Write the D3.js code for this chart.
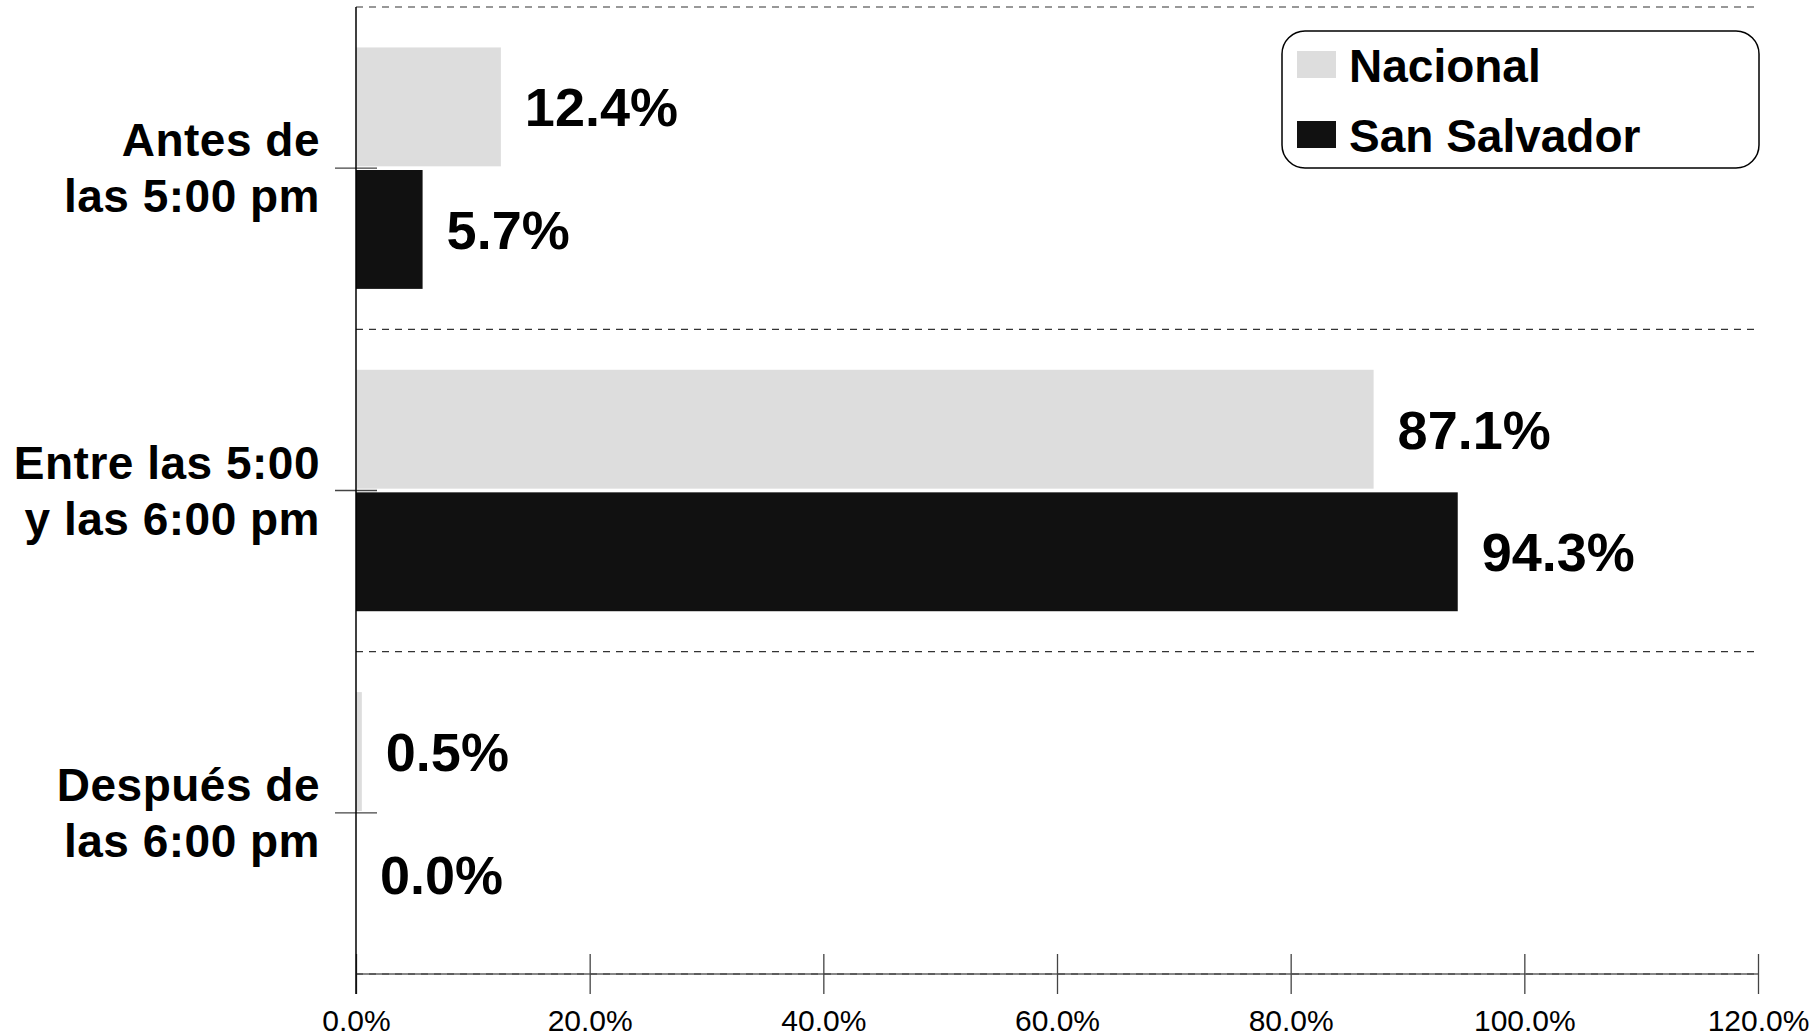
<!DOCTYPE html>
<html>
<head>
<meta charset="utf-8">
<script src="https://cdn.jsdelivr.net/npm/d3@7"></script>
<style>
    body { margin: 0; background: #fff; }
    svg { display: block; font-family: "Liberation Sans", Arial, sans-serif; }
</style>
</head>
<body>
<div class="chart"></div>
<script>
// Data.
const categories = [
    ['Antes de', 'las 5:00 pm'],
    ['Entre las 5:00', 'y las 6:00 pm'],
    ['Después de', 'las 6:00 pm']
];
const seriesNames = ['Nacional', 'San Salvador'];
const seriesColors = ['#dddddd', '#111111'];
const nacional = [0.124, 0.871, 0.005];
const sanSalvador = [0.057, 0.943, 0.0];
const xTicks = [0, 0.2, 0.4, 0.6, 0.8, 1.0, 1.2];

const W = 1812;
const H = 1036;
const margin = {top: 7, right: 54, bottom: 62, left: 356};
const width = W - margin.left - margin.right;
const height = H - margin.top - margin.bottom;

const svg = d3.select('.chart')
    .append('svg')
    .attr('width', W)
    .attr('height', H);

const g = svg.append('g')
    .attr('transform', `translate(${margin.left}, ${margin.top})`);

const catKeys = categories.map((d, i) => i);

//Scales
const x = d3.scaleLinear()
    .domain([0, 1.2])
    .range([0, width]);

const y = d3.scaleBand()
    .domain(catKeys)
    .range([0, height])
    .padding(0);

const ySeries = d3.scaleBand()
    .domain(seriesNames)
    .range([0, y.bandwidth()])
    .paddingInner(0.03)
    .paddingOuter(0.33);

// gridlines on the category boundaries
const boundaries = catKeys.map(k => y(k)).concat([height]);
g.append('g')
    .selectAll('line')
    .data(boundaries)
    .enter()
    .append('line')
    .attr('x1', 0)
    .attr('x2', width)
    .attr('y1', d => d)
    .attr('y2', d => d)
    .attr('stroke', '#888')
    .attr('stroke-width', d => d === height ? 2 : 0)
    .clone()
    .attr('stroke', '#333')
    .attr('stroke-width', 1.2)
    .attr('stroke-dasharray', '7,6');

// x axis
const axisX = d3.axisBottom(x)
    .tickValues(xTicks)
    .tickFormat(d3.format('.1%'))
    .tickSizeOuter(0);

const gx = g.append('g')
    .attr('transform', `translate(0, ${height})`)
    .call(axisX);
gx.select('.domain').remove();
gx.selectAll('.tick line')
    .attr('y1', -20)
    .attr('y2', 20)
    .attr('stroke', '#444')
    .attr('stroke-width', 1.3);
gx.selectAll('.tick text')
    .attr('y', 57)
    .attr('dy', 0)
    .attr('fill', '#000')
    .style('font-size', '30px');

// bars
const rows = catKeys.map(k => ({key: k, values: [nacional[k], sanSalvador[k]]}));

const groups = g.append('g')
    .selectAll('.cat')
    .data(rows)
    .enter()
    .append('g')
    .attr('class', 'cat')
    .attr('transform', d => `translate(0, ${y(d.key)})`);

groups.selectAll('rect')
    .data(d => d.values.map((v, i) => ({name: seriesNames[i], v: v, i: i})))
    .enter()
    .append('rect')
    .attr('x', 0)
    .attr('y', d => ySeries(d.name))
    .attr('width', d => x(d.v))
    .attr('height', ySeries.bandwidth())
    .attr('fill', d => seriesColors[d.i]);

groups.selectAll('.val')
    .data(d => d.values.map((v, i) => ({name: seriesNames[i], v: v, i: i})))
    .enter()
    .append('text')
    .attr('class', 'val')
    .attr('x', d => x(d.v) + 24)
    .attr('y', d => ySeries(d.name) + ySeries.bandwidth() / 2)
    .attr('dy', '0.36em')
    .style('font-size', '54px')
    .style('font-weight', 'bold')
    .text(d => d3.format('.1%')(d.v));

// y axis
const axisY = d3.axisLeft(y)
    .tickSize(21)
    .tickSizeOuter(0)
    .tickFormat('');

const gy = g.append('g').call(axisY);
gy.select('.domain').remove();
gy.selectAll('.tick line')
    .attr('x2', 21)
    .attr('x1', -21)
    .attr('stroke', '#444')
    .attr('stroke-width', 1.3);

gy.selectAll('.tick text').remove();
gy.selectAll('.tick')
    .append('text')
    .attr('text-anchor', 'end')
    .attr('x', -36)
    .attr('fill', '#000')
    .style('font-size', '46px')
    .style('font-weight', 'bold')
    .style('letter-spacing', '0.5px')
    .selectAll('tspan')
    .data(k => categories[k])
    .enter()
    .append('tspan')
    .attr('x', -36)
    .attr('y', (d, i) => i === 0 ? -12 : 44)
    .text(d => d);

// y axis line
g.append('line')
    .attr('x1', 0)
    .attr('x2', 0)
    .attr('y1', 0)
    .attr('y2', height + 20)
    .attr('stroke', '#000')
    .attr('stroke-width', 1.5);

// legend
const legend = svg.append('g')
    .attr('transform', 'translate(1282, 31)');

legend.append('rect')
    .attr('width', 477)
    .attr('height', 137)
    .attr('rx', 23)
    .attr('fill', '#fff')
    .attr('stroke', '#000')
    .attr('stroke-width', 1.5);

const legendItems = legend.selectAll('.item')
    .data(seriesNames)
    .enter()
    .append('g')
    .attr('class', 'item')
    .attr('transform', (d, i) => `translate(15, ${20 + i * 70})`);

legendItems.append('rect')
    .attr('width', 39)
    .attr('height', 27)
    .attr('fill', (d, i) => seriesColors[i]);

legendItems.append('text')
    .attr('x', 52)
    .attr('y', 31)
    .style('font-size', '46px')
    .style('font-weight', 'bold')
    .text(d => d);
</script>
</body>
</html>
